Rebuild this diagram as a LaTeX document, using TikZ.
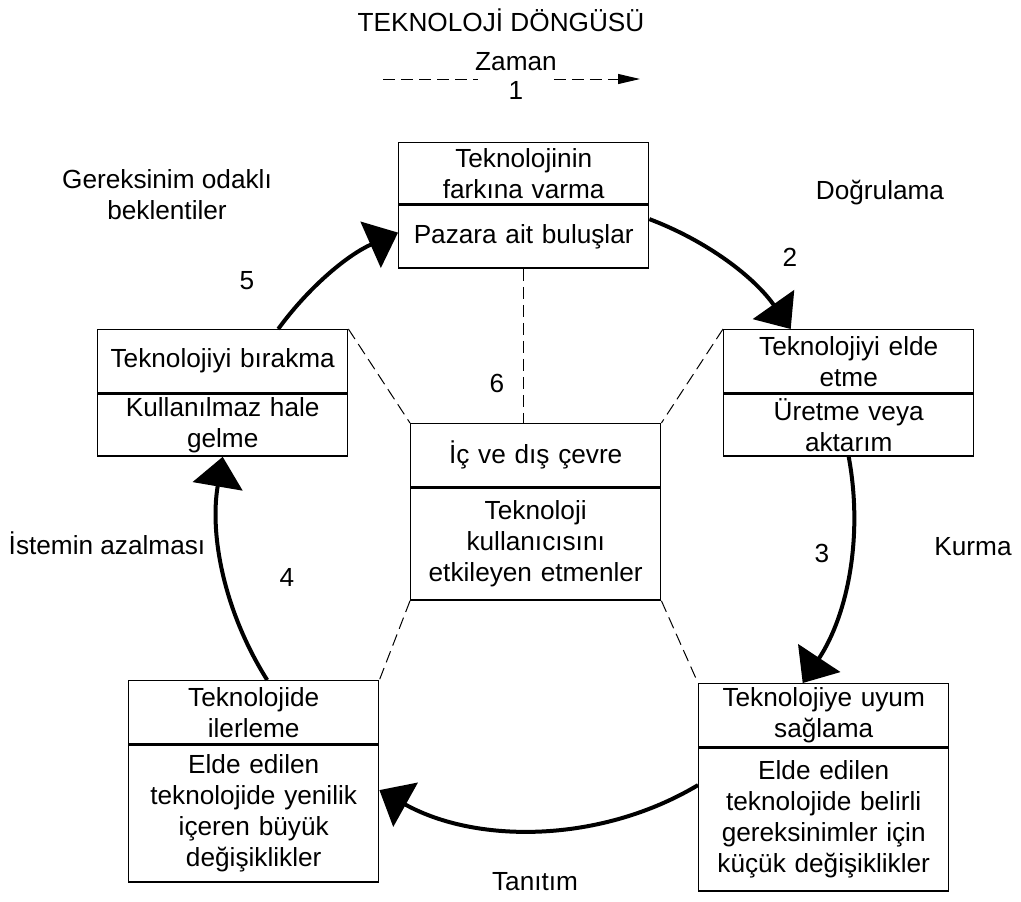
\documentclass[tikz,border=0pt]{standalone}
\usepackage{fontspec}
\setmainfont{Liberation Sans}
\usetikzlibrary{positioning,arrows.meta}
\begin{document}
\begin{tikzpicture}[x=0.5pt,y=-0.5pt,
        every node/.style={font=\fontsize{13.1}{15.5}\selectfont},
        part/.style={draw,line width=.7pt,text width=121pt,inner xsep=2pt,inner ysep=0pt,align=center,minimum height=#1},
        txt/.style={align=center},
        flow/.style={line width=2pt,-{Triangle[length=15pt,width=25pt]},looseness=.9},
        link/.style={line width=.5pt,dash pattern=on 6pt off 3pt}]
                \useasboundingbox (0,0) rectangle (1021,901);
                \node (title) at (501,20) {TEKNOLOJİ DÖNGÜSÜ};
                \node (zaman) at (516,62) {Zaman};
                \node[minimum width=37.5pt,inner sep=0pt] (one) at (516,90) {1};
                \coordinate (z0) at (383,79);
                \coordinate (z1) at (640,79);
                \draw[link] (z0) -- (z0 -| one.west);
                \draw[link,-{Triangle[length=11pt,width=5pt]}] (z1 -| one.east) -- (z1);
                \node[part=30.5pt,anchor=north west] (T1) at (398,142) {Teknolojinin\\farkına varma};
                \node[part=31.5pt,below=0pt of T1] (T2) {Pazara ait buluşlar};
                \node[part=31.5pt,anchor=north west] (R1) at (723,329) {Teknolojiyi elde\\etme};
                \node[part=31pt,below=0pt of R1] (R2) {Üretme veya\\aktarım};
                \node[part=31.5pt,anchor=north west] (L1) at (97,329) {Teknolojiyi bırakma};
                \node[part=31pt,below=0pt of L1] (L2) {Kullanılmaz hale\\gelme};
                \node[part=31.5pt,anchor=north west] (C1) at (410,423) {İç ve dış çevre};
                \node[part=56pt,below=0pt of C1] (C2) {Teknoloji\\kullanıcısını\\etkileyen etmenler};
                \node[part=31.5pt,anchor=north west] (BL1) at (128,680) {Teknolojide\\ilerleme};
                \node[part=68.5pt,below=0pt of BL1] (BL2) {Elde edilen\\teknolojide yenilik\\içeren büyük\\değişiklikler};
                \node[part=31.5pt,anchor=north west] (BR1) at (698,683) {Teknolojiye uyum\\sağlama};
                \node[part=71.5pt,below=0pt of BR1] (BR2) {Elde edilen\\teknolojide belirli\\gereksinimler için\\küçük değişiklikler};
                \node[txt] (need) at (167,195) {Gereksinim odaklı\\beklentiler};
                \node (n5) at (247,281) {5};
                \node (verify) at (880,193) {Doğrulama};
                \node (n2) at (790,257) {2};
                \node (n3) at (822,553) {3};
                \node (install) at (973,547) {Kurma};
                \node (decline) at (107,543) {İstemin azalması};
                \node (n4) at (287,577) {4};
                \node (n6) at (497,383) {6};
                \node (intro) at (535,882) {Tanıtım};
                \draw[flow] ([xshift=27.75pt]L1.north) to[bend left=15] ([yshift=2pt]T2.west);
                \draw[flow] ([yshift=8.75pt]T2.east) to[bend left=17] ([xshift=-29pt]R1.north);
                \draw[flow] (R2.south) to[bend left=22] ([xshift=-10.5pt]BR1.north);
                \draw[flow] ([yshift=17.25pt]BR2.west) to[bend left=30] ([yshift=11.75pt]BL2.east);
                \draw[flow] ([xshift=6.75pt]BL1.north) to[bend left=21] (L2.south);
                \draw[link] (T2.south) -- (T2.south |- C1.north);
                \draw[link] (L1.north east) -- (C1.north west);
                \draw[link] (R1.north west) -- (C1.north east);
                \draw[link] (C2.south west) -- (BL1.north east);
                \draw[link] (C2.south east) -- (BR1.north west);
            \end{tikzpicture}
\end{document}
